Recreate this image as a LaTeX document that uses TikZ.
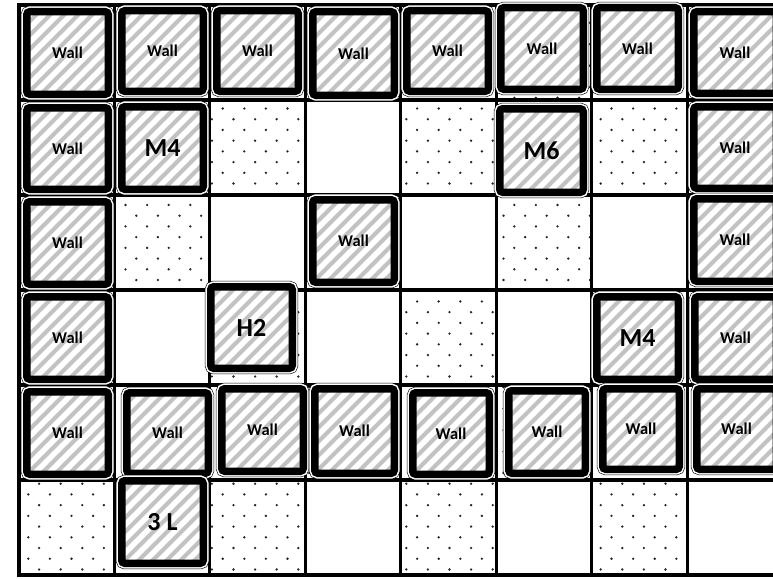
\documentclass[tikz,border=0pt]{standalone}
\usepackage{fontspec}
\setmainfont{Carlito}
\usetikzlibrary{calc}
\tikzset{
  gridline/.style={line width=3.2pt, black},
  wallbox/.style={draw=black, line width=7.5pt, rounded corners=3pt, inner sep=0pt,
    fill=white, font=\bfseries\fontsize{16.5}{16.5}\selectfont,
    preaction={draw=black, line width=11.8pt},
    preaction={draw=white, line width=10.6pt},
    path picture={
      \foreach \i in {-10,...,10}
        \draw[black!24, line width=4.2pt]
          ($(path picture bounding box.south west)+(\i*14pt,0pt)$) -- ++(130pt,130pt);
    }},
  big/.style={font=\bfseries\fontsize{26}{26}\selectfont}
}
\newcommand\wb[7]{%
  \node[wallbox,#7,minimum width={#3-#1-7.5},minimum height={#4-#2-7.5}]
    (#5) at ({(#1+#3)/2},{(#2+#4)/2}) {#6};}
\begin{document}
\begin{tikzpicture}[x=1pt,y=-1pt]
\useasboundingbox (0,0) rectangle (773,578);
\fill[white] (0,0) rectangle (773,578);
% dotted cells
\begin{scope}
  \clip \foreach \c/\r in {5/0,7/0,2/1,4/1,6/1,1/2,5/2,2/3,4/3,3/4,5/4,7/4,0/5,2/5,4/5,6/5}
    { (18.7+95.5*\c, 5+95*\r) rectangle ++(95.5,95) };
  \foreach \k in {0,...,54} {
    \pgfmathsetmacro\yy{1.3+10.72*\k}
    \pgfmathsetmacro\off{mod(\k,2)*10.8}
    \foreach \m in {0,...,36}
      \fill[black!85] (6.7+\off+21.6*\m, \yy) circle (1.3);
  }
\end{scope}
% grid
\foreach \c in {1,...,7} \draw[gridline] (18.7+95.5*\c,5) -- (18.7+95.5*\c,575);
\foreach \r in {1,...,5} \draw[gridline] (18.7,5+95*\r) -- (775,5+95*\r);
\draw[line width=4pt] (775,5) -- (18.7,5) -- (18.7,575) -- (775,575);
% boxes
\wb{23}{8}{112}{98}{w00}{Wall}{}
\wb{118}{7}{207}{95}{w01}{Wall}{}
\wb{213}{7}{302}{95}{w02}{Wall}{}
\wb{309}{8}{398}{99}{w03}{Wall}{}
\wb{403}{7}{492}{95}{w04}{Wall}{}
\wb{497}{4}{587}{93}{w05}{Wall}{}
\wb{593}{4}{682}{93}{w06}{Wall}{}
\wb{690}{8}{780}{97}{w07}{Wall}{}
\wb{23}{104}{112}{193}{w10}{Wall}{}
\wb{118}{103}{207}{193}{m4a}{M4}{big}
\wb{496}{105}{587}{196}{m6}{M6}{big}
\wb{690}{103}{780}{192}{w17}{Wall}{}
\wb{23}{198}{112}{288}{w20}{Wall}{}
\wb{309}{196}{398}{286}{w23}{Wall}{}
\wb{690}{195}{780}{285}{w27}{Wall}{}
\wb{23}{293}{112}{383}{w30}{Wall}{}
\wb{207}{283}{296}{372}{h2}{H2}{big}
\wb{593}{293}{682}{383}{m4b}{M4}{big}
\wb{691}{293}{780}{383}{w37}{Wall}{}
\wb{23}{388}{112}{478}{w40}{Wall}{}
\wb{123}{389}{212}{477}{w41}{Wall}{}
\wb{218}{385}{307}{475}{w42}{Wall}{}
\wb{311}{385}{398}{477}{w43}{Wall}{}
\wb{409}{389}{493}{478}{w44}{Wall}{}
\wb{505}{387}{589}{477}{w45}{Wall}{}
\wb{599}{385}{683}{473}{w46}{Wall}{}
\wb{693}{385}{780}{473}{w47}{Wall}{}
\wb{118}{477}{207}{567}{l3}{3 L}{big}
\end{tikzpicture}
\end{document}
